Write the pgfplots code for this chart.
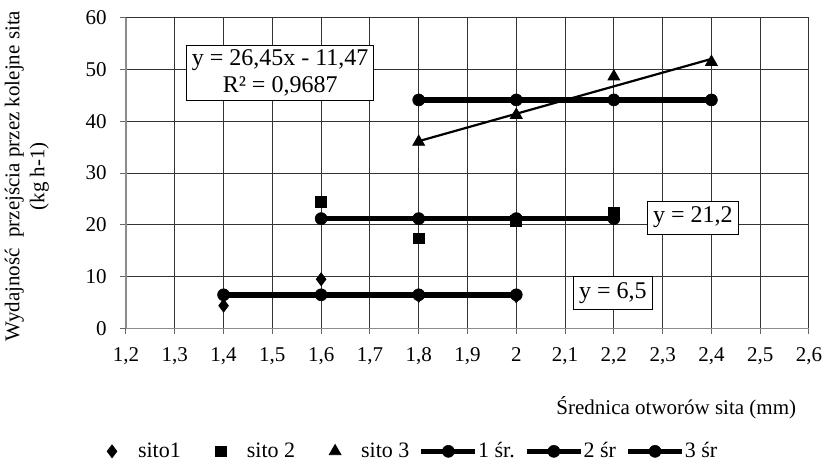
\documentclass[border=0pt]{standalone}
\usepackage{fontspec}
\setmainfont{Liberation Serif}
\usepackage{pgfplots}
\pgfplotsset{compat=1.18}
\pgfplotsset{
  mylegS/.style={legend image code/.code={
      \path[draw=none, fill=none] (-20pt,0pt) -- (13pt,0pt);
      \draw[##1] plot coordinates {(0pt,0pt)};}},
  mylegL/.style={legend image code/.code={
      \path[draw=none, fill=none] (-6pt,0pt) -- (28pt,0pt);
      \draw[##1] (0pt,0pt) -- (27pt,0pt);
      \draw[##1] plot coordinates {(13.5pt,0pt)};}},
  myavg/.style={black, line width=2.8pt, mark=*, mark size=3pt, mark options={line width=0.3pt}, mylegL},
}
\begin{document}
\fontsize{10.5}{12.5}\selectfont
\begin{tikzpicture}
\useasboundingbox (-63pt,-70.75pt) rectangle (350.5pt,164.25pt);
\begin{axis}[
  scale only axis, width=341.5pt, height=155.5pt,
  xmin=1.2, xmax=2.6, ymin=0, ymax=60,
  xtick={1.2,1.3,1.4,1.5,1.6,1.7,1.8,1.9,2.0,2.1,2.2,2.3,2.4,2.5,2.6},
  ytick={0,10,20,30,40,50,60},
  axis lines*=left,
  axis line style={black!45, line width=0.6pt},
  grid=major,
  major grid style={black!80, line width=0.5pt},
  tick align=outside, major tick length=3pt,
  tick style={black!60, line width=0.5pt},
  /pgf/number format/.cd, use comma, 1000 sep={}, assume math mode=true,
  /pgfplots/.cd,
  xticklabel style={yshift=-3pt},
  yticklabel style={xshift=-3pt},
  xlabel={Średnica otworów sita (mm)},
  xlabel style={at={(axis description cs:0.992,-0.255)}, anchor=east},
  ylabel={Wydajność \ przejścia przez kolejne sita\\(kg h-1)},
  ylabel style={at={(axis description cs:-0.145,0.49)}, anchor=center, align=center},
  legend style={at={(axis description cs:-0.079,-0.395)}, anchor=west, draw=none, fill=none,
    inner sep=0pt, outer sep=0pt,
    legend columns=6, column sep=0pt,
    nodes={inner xsep=0pt, inner ysep=1pt, font=\fontsize{11}{13}\selectfont}},
  legend cell align=left,
]
\addplot[only marks, mark=diamond*, mark size=3.2pt, black, mylegS] coordinates {(1.4,4.4) (1.6,9.5) (1.8,6.3) (2.0,6.2)};
\addlegendentry{sito1}
\addplot[only marks, mark=square*, mark size=2.7pt, black, mylegS] coordinates {(1.6,24.4) (1.8,17.4) (2.0,20.8) (2.2,22.3)};
\addlegendentry{sito 2}
\addplot[only marks, mark=triangle*, mark size=3.4pt, black, mylegS] coordinates {(1.8,36.0) (2.0,41.2) (2.2,48.6) (2.4,51.4)};
\addlegendentry{sito 3}
\addplot[myavg] coordinates {(1.4,6.5) (1.6,6.5) (1.8,6.5) (2.0,6.5)};
\addlegendentry{1 śr.}
\addplot[myavg] coordinates {(1.6,21.2) (1.8,21.2) (2.0,21.2) (2.2,21.2)};
\addlegendentry{2 śr}
\addplot[myavg] coordinates {(1.8,44.1) (2.0,44.1) (2.2,44.1) (2.4,44.1)};
\addlegendentry{3 śr}
\addplot[black, line width=1.1pt, forget plot] coordinates {(1.8,36.14) (2.4,52.01)};
\node[draw=black, fill=white, align=center, inner xsep=2.5pt, inner ysep=2pt, line width=0.5pt, font=\fontsize{12}{13.5}\selectfont] at (axis cs:1.516,49.3) {y = 26,45x - 11,47\\R² = 0,9687};
\node[draw=black, fill=white, inner xsep=3pt, inner ysep=3pt, line width=0.5pt, font=\fontsize{12}{13.5}\selectfont] at (axis cs:2.362,21.4) {y = 21,2};
\node[draw=black, fill=white, inner xsep=3pt, inner ysep=3pt, line width=0.5pt, font=\fontsize{12}{13.5}\selectfont] at (axis cs:2.198,6.8) {y = 6,5};
\end{axis}
\end{tikzpicture}
\end{document}
